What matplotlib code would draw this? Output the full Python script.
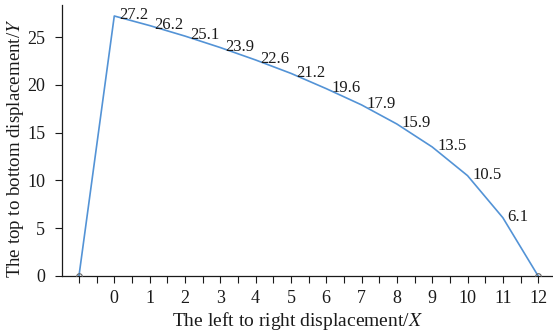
import numpy as np
import matplotlib.pyplot as plt
from matplotlib.ticker import MultipleLocator

# data
x_pts = [-1, 0, 1, 2, 3, 4, 5, 6, 7, 8, 9, 10, 11, 12]
y_pts = [0, 27.2, 26.2, 25.1, 23.9, 22.6, 21.2, 19.6, 17.9, 15.9, 13.5, 10.5, 6.1, 0]
x_ticks = list(range(0, 13))
y_ticks = [0, 5, 10, 15, 20, 25]

plt.rcParams['font.family'] = ['Liberation Serif', 'DejaVu Serif']
plt.rcParams['mathtext.fontset'] = 'stix'

fig = plt.figure(figsize=(5.53, 3.35), dpi=100)
ax = fig.add_axes([62 / 553, 1 - 276 / 335, (553 - 62) / 553, (276 - 5) / 335])

line_color = '#5393d6'
ax.plot(x_pts, y_pts, color=line_color, lw=1.2, zorder=2)
ax.plot([x_pts[0], x_pts[-1]], [y_pts[0], y_pts[-1]], 'o', ms=4,
        mfc='none', mec='#666666', mew=0.8, zorder=3)

for xv, yv in zip(x_pts[1:-1], y_pts[1:-1]):
    ax.annotate(f'{yv}', (xv, yv), xytext=(3.5, 0.5), textcoords='offset points',
                ha='left', va='center', fontsize=12, color='#1a1a1a', zorder=4)

ax.set_xlim(-1.48, 12.42)
ax.set_ylim(0, 28.35)
ax.set_xticks(x_ticks)
ax.xaxis.set_minor_locator(MultipleLocator(0.5))
ax.set_yticks(y_ticks)
ax.tick_params(axis='both', which='both', direction='out', length=5,
               width=0.8, labelsize=13, colors='#1a1a1a')
ax.tick_params(axis='x', which='major', pad=5)
ax.tick_params(axis='y', which='major', pad=7)

for side in ['top', 'right']:
    ax.spines[side].set_visible(False)
for side in ['left', 'bottom']:
    ax.spines[side].set_linewidth(0.9)
    ax.spines[side].set_color('#1a1a1a')

ax.set_xlabel('The left to right displacement/$\\mathit{X}$', fontsize=14,
              color='#1a1a1a', va='center', ha='center')
ax.set_ylabel('The top to bottom displacement/$\\mathit{Y}$', fontsize=13.6,
              color='#1a1a1a', va='center', ha='center')
ax.xaxis.set_label_coords((297 - 62) / 491, (276 - 321) / 271)
ax.yaxis.set_label_coords((16 - 62) / 491, (276 - 148) / 271)

fig.savefig('out.png', dpi=100)
